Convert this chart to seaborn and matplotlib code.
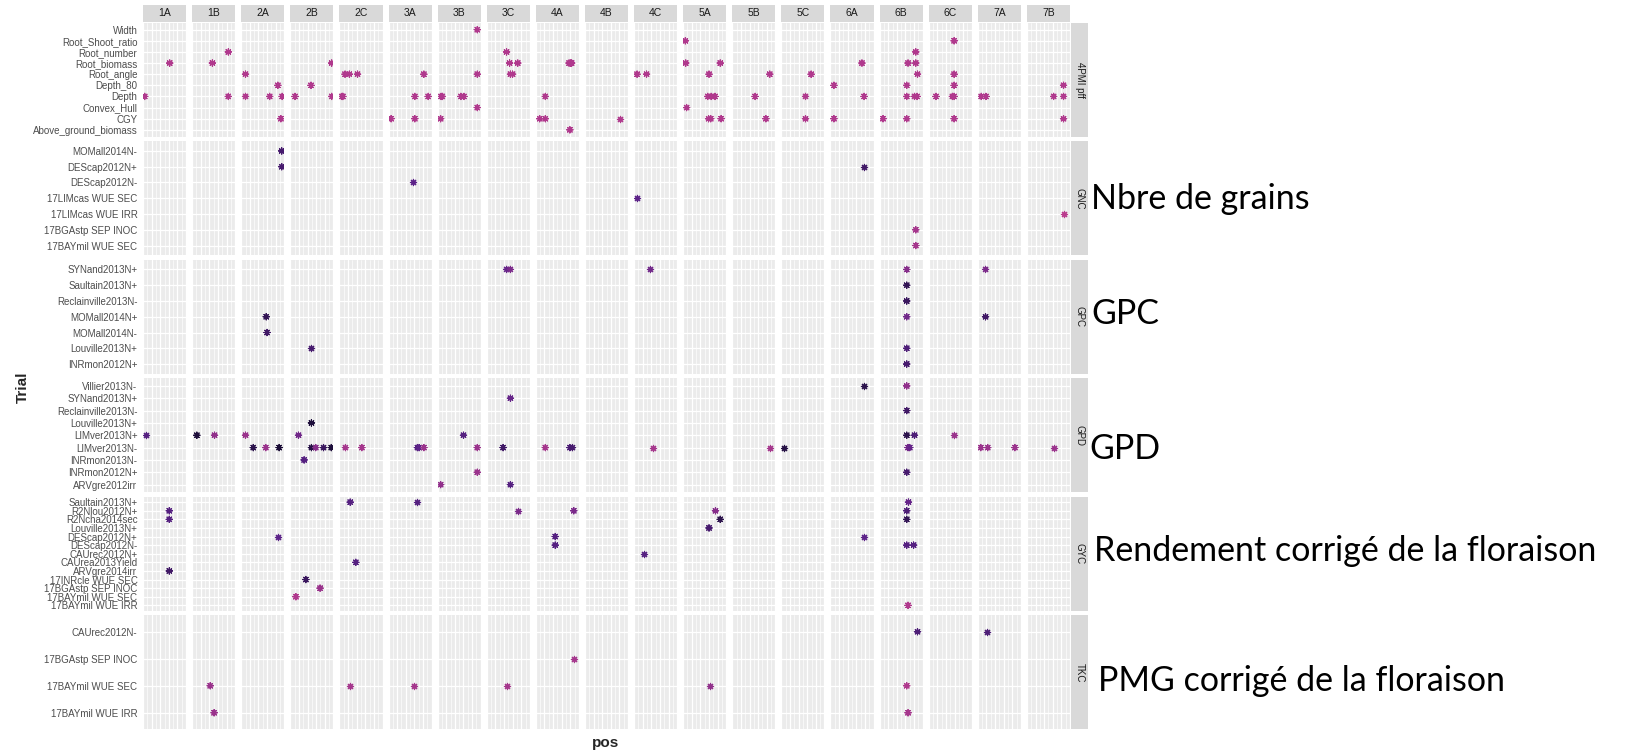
import numpy as np
import pandas as pd
import matplotlib
matplotlib.use("Agg")
import matplotlib.pyplot as plt
import seaborn as sns
from matplotlib.colors import LinearSegmentedColormap
from matplotlib.patches import Rectangle

chromosomes = ["1A", "1B", "2A", "2B", "2C", "3A", "3B", "3C", "4A", "4B",
               "4C", "5A", "5B", "5C", "6A", "6B", "6C", "7A", "7B"]
traits = ["4PMI pff", "GNC", "GPC", "GPD", "GYC", "TKC"]
annotations = ["", "Nbre de grains", "GPC", "GPD",
               "Rendement corrigé de la floraison", "PMG corrigé de la floraison"]

trials_4PMI = ["Width", "Root_Shoot_ratio", "Root_number", "Root_biomass", "Root_angle",
               "Depth_80", "Depth", "Convex_Hull", "CGY", "Above_ground_biomass"]
trials_GNC = ["MOMall2014N-", "DEScap2012N+", "DEScap2012N-", "17LIMcas WUE SEC",
              "17LIMcas WUE IRR", "17BGAstp SEP INOC", "17BAYmil WUE SEC"]
trials_GPC = ["SYNand2013N+", "Saultain2013N+", "Reclainville2013N-", "MOMall2014N+",
              "MOMall2014N-", "Louville2013N+", "INRmon2012N+"]
trials_GPD = ["Villier2013N-", "SYNand2013N+", "Reclainville2013N-", "Louville2013N+",
              "LIMver2013N+", "LIMver2013N-", "INRmon2013N-", "INRmon2012N+", "ARVgre2012irr"]
trials_GYC = ["Saultain2013N+", "R2Nlou2012N+", "R2Ncha2014sec", "Louville2013N+",
              "DEScap2012N+", "DEScap2012N-", "CAUrec2012N+", "CAUrea2013Yield",
              "ARVgre2014irr", "17INRcle WUE SEC", "17BGAstp SEP INOC",
              "17BAYmil WUE SEC", "17BAYmil WUE IRR"]
trials_TKC = ["CAUrec2012N-", "17BGAstp SEP INOC", "17BAYmil WUE SEC", "17BAYmil WUE IRR"]

# (chromosome, trial, pos, effect)
pts_4PMI = [
    ("1A", "Root_biomass", 62, 0.9), ("1A", "Depth", 4, 0.9),
    ("1B", "Root_biomass", 47, 0.9), ("1B", "Root_number", 84, 0.9), ("1B", "Depth", 84, 0.9),
    ("2A", "Root_angle", 10, 0.9), ("2A", "Depth_80", 85, 0.9), ("2A", "Depth", 10, 0.9),
    ("2A", "Depth", 66, 0.9), ("2A", "Depth", 95, 0.9), ("2A", "CGY", 92, 0.9),
    ("2B", "Root_biomass", 96, 0.9), ("2B", "Depth_80", 48, 0.9), ("2B", "Depth", 11, 0.9),
    ("2B", "Depth", 96, 0.9),
    ("2C", "Root_angle", 13, 0.9), ("2C", "Root_angle", 23, 0.9), ("2C", "Root_angle", 42, 0.9),
    ("2C", "Depth", 6, 0.9), ("2C", "Depth", 8, 0.9),
    ("3A", "Root_angle", 82, 0.9), ("3A", "Depth", 61, 0.9), ("3A", "Depth", 92, 0.9),
    ("3A", "CGY", 6, 0.9), ("3A", "CGY", 61, 0.9),
    ("3B", "Width", 92, 0.9), ("3B", "Root_angle", 92, 0.9), ("3B", "Depth", 8, 0.9),
    ("3B", "Depth", 11, 0.9), ("3B", "Depth", 54, 0.9), ("3B", "Depth", 61, 0.9),
    ("3B", "Convex_Hull", 92, 0.9), ("3B", "CGY", 7, 0.9),
    ("3C", "Root_number", 46, 0.9), ("3C", "Root_biomass", 53, 0.9), ("3C", "Root_biomass", 72, 0.9),
    ("3C", "Root_angle", 55, 0.9), ("3C", "Root_angle", 60, 0.9),
    ("4A", "Root_biomass", 77, 0.9), ("4A", "Root_biomass", 80, 0.9), ("4A", "Root_biomass", 83, 0.9),
    ("4A", "Depth", 22, 0.9), ("4A", "CGY", 9, 0.9), ("4A", "CGY", 22, 0.9),
    ("4A", "Above_ground_biomass", 79, 0.9),
    ("4B", "CGY", 81, 0.9),
    ("4C", "Root_angle", 7, 0.9), ("4C", "Root_angle", 29, 0.9),
    ("5A", "Root_Shoot_ratio", 5, 0.9), ("5A", "Root_biomass", 6, 0.9), ("5A", "Root_biomass", 86, 0.9),
    ("5A", "Root_angle", 60, 0.9), ("5A", "Depth", 57, 0.9), ("5A", "Depth", 65, 0.9),
    ("5A", "Depth", 74, 0.9), ("5A", "Convex_Hull", 8, 0.9), ("5A", "CGY", 59, 0.9),
    ("5A", "CGY", 64, 0.9), ("5A", "CGY", 88, 0.9),
    ("5B", "Root_angle", 87, 0.9), ("5B", "Depth", 53, 0.9), ("5B", "CGY", 78, 0.9),
    ("5C", "Root_angle", 69, 0.9), ("5C", "Depth", 56, 0.9), ("5C", "CGY", 56, 0.9),
    ("6A", "Root_biomass", 73, 0.9), ("6A", "Depth_80", 8, 0.9), ("6A", "Depth", 78, 0.9),
    ("6A", "CGY", 8, 0.9),
    ("6B", "Root_number", 84, 0.9), ("6B", "Root_biomass", 66, 0.9), ("6B", "Root_biomass", 84, 0.9),
    ("6B", "Root_angle", 88, 0.9), ("6B", "Depth_80", 63, 0.9), ("6B", "Depth", 63, 0.9),
    ("6B", "Depth", 81, 0.9), ("6B", "Depth", 87, 0.9), ("6B", "CGY", 8, 0.9), ("6B", "CGY", 63, 0.9),
    ("6C", "Root_Shoot_ratio", 59, 0.9), ("6C", "Root_angle", 59, 0.9), ("6C", "Depth_80", 59, 0.9),
    ("6C", "Depth", 17, 0.9), ("6C", "Depth", 55, 0.9), ("6C", "Depth", 59, 0.9), ("6C", "CGY", 59, 0.9),
    ("7A", "Depth", 8, 0.9), ("7A", "Depth", 19, 0.9),
    ("7B", "Depth_80", 85, 0.9), ("7B", "Depth", 62, 0.9), ("7B", "Depth", 85, 0.9), ("7B", "CGY", 85, 0.9),
]
pts_GNC = [
    ("2A", "MOMall2014N-", 94, 0.35), ("2A", "DEScap2012N+", 94, 0.35),
    ("3A", "DEScap2012N-", 57, 0.5), ("4C", "17LIMcas WUE SEC", 8, 0.5),
    ("6A", "DEScap2012N+", 78, 0.3), ("6B", "17BGAstp SEP INOC", 84, 0.85),
    ("6B", "17BAYmil WUE SEC", 84, 0.85), ("7B", "17LIMcas WUE IRR", 85, 0.95),
]
pts_GPC = [
    ("2A", "MOMall2014N+", 58, 0.2), ("2A", "MOMall2014N-", 60, 0.3),
    ("2B", "Louville2013N+", 49, 0.35),
    ("3C", "SYNand2013N+", 46, 0.55), ("3C", "SYNand2013N+", 55, 0.65),
    ("4C", "SYNand2013N+", 36, 0.6),
    ("6B", "SYNand2013N+", 63, 0.7), ("6B", "Saultain2013N+", 63, 0.2),
    ("6B", "Reclainville2013N-", 63, 0.25), ("6B", "MOMall2014N+", 63, 0.6),
    ("6B", "Louville2013N+", 63, 0.4), ("6B", "INRmon2012N+", 63, 0.35),
    ("7A", "SYNand2013N+", 18, 0.65), ("7A", "MOMall2014N+", 18, 0.3),
]
pts_GPD = [
    ("1A", "LIMver2013N+", 7, 0.45),
    ("1B", "LIMver2013N+", 11, 0.05), ("1B", "LIMver2013N+", 52, 0.75),
    ("2A", "LIMver2013N+", 10, 0.8), ("2A", "LIMver2013N-", 28, 0.15),
    ("2A", "LIMver2013N-", 57, 0.8), ("2A", "LIMver2013N-", 88, 0.02),
    ("2B", "Louville2013N+", 49, 0.05), ("2B", "LIMver2013N+", 19, 0.6),
    ("2B", "LIMver2013N-", 49, 0.1), ("2B", "LIMver2013N-", 59, 0.7),
    ("2B", "LIMver2013N-", 77, 0.25), ("2B", "LIMver2013N-", 95, 0.05),
    ("2B", "INRmon2013N-", 32, 0.45),
    ("2C", "LIMver2013N-", 14, 0.85), ("2C", "LIMver2013N-", 52, 0.85),
    ("3A", "LIMver2013N-", 67, 0.45), ("3A", "LIMver2013N-", 71, 0.5), ("3A", "LIMver2013N-", 82, 0.8),
    ("3B", "LIMver2013N+", 60, 0.45), ("3B", "LIMver2013N-", 92, 0.8),
    ("3B", "INRmon2012N+", 92, 0.8), ("3B", "ARVgre2012irr", 7, 0.75),
    ("3C", "SYNand2013N+", 55, 0.55), ("3C", "LIMver2013N-", 38, 0.3), ("3C", "ARVgre2012irr", 55, 0.45),
    ("4A", "LIMver2013N-", 22, 0.85), ("4A", "LIMver2013N-", 79, 0.4), ("4A", "LIMver2013N-", 85, 0.35),
    ("4C", "LIMver2013N-", 45, 0.85), ("5B", "LIMver2013N-", 87, 0.85),
    ("5C", "LIMver2013N-", 6, 0.1), ("6A", "Villier2013N-", 78, 0.15),
    ("6B", "Villier2013N-", 63, 0.75), ("6B", "Reclainville2013N-", 63, 0.3),
    ("6B", "LIMver2013N+", 63, 0.15), ("6B", "LIMver2013N+", 81, 0.4),
    ("6B", "LIMver2013N-", 66, 0.65), ("6B", "LIMver2013N-", 70, 0.55),
    ("6B", "INRmon2012N+", 63, 0.35),
    ("6C", "LIMver2013N+", 59, 0.8),
    ("7A", "LIMver2013N-", 7, 0.8), ("7A", "LIMver2013N-", 23, 0.8), ("7A", "LIMver2013N-", 86, 0.8),
    ("7B", "LIMver2013N-", 64, 0.8),
]
pts_GYC = [
    ("1A", "R2Nlou2012N+", 61, 0.45), ("1A", "R2Ncha2014sec", 61, 0.45), ("1A", "ARVgre2014irr", 61, 0.3),
    ("2A", "DEScap2012N+", 85, 0.5),
    ("2B", "17INRcle WUE SEC", 36, 0.25), ("2B", "17BGAstp SEP INOC", 69, 0.8),
    ("2B", "17BAYmil WUE SEC", 13, 0.9),
    ("2C", "Saultain2013N+", 25, 0.45), ("2C", "CAUrea2013Yield", 38, 0.45),
    ("3A", "Saultain2013N+", 66, 0.45), ("3C", "R2Nlou2012N+", 73, 0.65),
    ("4A", "DEScap2012N+", 45, 0.45), ("4A", "DEScap2012N-", 45, 0.45), ("4A", "R2Nlou2012N+", 88, 0.65),
    ("4C", "CAUrec2012N+", 23, 0.45),
    ("5A", "R2Nlou2012N+", 75, 0.7), ("5A", "R2Ncha2014sec", 86, 0.15), ("5A", "Louville2013N+", 60, 0.35),
    ("6A", "DEScap2012N+", 78, 0.5),
    ("6B", "Saultain2013N+", 67, 0.55), ("6B", "R2Nlou2012N+", 63, 0.4), ("6B", "R2Ncha2014sec", 63, 0.2),
    ("6B", "DEScap2012N-", 63, 0.45), ("6B", "DEScap2012N-", 79, 0.45),
    ("6B", "17BAYmil WUE IRR", 66, 0.9),
]
pts_TKC = [
    ("1B", "17BAYmil WUE SEC", 42, 0.8), ("1B", "17BAYmil WUE IRR", 51, 0.8),
    ("2C", "17BAYmil WUE SEC", 25, 0.85), ("3A", "17BAYmil WUE SEC", 58, 0.85),
    ("3C", "17BAYmil WUE SEC", 47, 0.85), ("4A", "17BGAstp SEP INOC", 89, 0.85),
    ("5A", "17BAYmil WUE SEC", 63, 0.75),
    ("6B", "CAUrec2012N-", 88, 0.4), ("6B", "17BAYmil WUE SEC", 63, 0.9),
    ("6B", "17BAYmil WUE IRR", 66, 0.85),
    ("7A", "CAUrec2012N-", 22, 0.4),
]

trial_lists = [trials_4PMI, trials_GNC, trials_GPC, trials_GPD, trials_GYC, trials_TKC]
point_lists = [pts_4PMI, pts_GNC, pts_GPC, pts_GPD, pts_GYC, pts_TKC]

cmap = LinearSegmentedColormap.from_list("qtl", ["#180c33", "#5c2288", "#c43e8e"])

sns.set_theme(style="white")
plt.rcParams["font.family"] = ["Liberation Sans", "DejaVu Sans"]

W, H = 1626, 753
fig = plt.figure(figsize=(W / 100, H / 100), dpi=100)
L, R, T, B = 143, 1070, 23, 729
gs = fig.add_gridspec(6, 19, left=L / W, right=R / W, top=1 - T / H, bottom=1 - B / H,
                      wspace=0.139, hspace=0.044)

for r, (trait, cats, pts) in enumerate(zip(traits, trial_lists, point_lists)):
    df = pd.DataFrame(pts, columns=["chrom", "trial", "pos", "effect"])
    df["yi"] = df["trial"].map({c: i for i, c in enumerate(cats)})
    for c, chrom in enumerate(chromosomes):
        ax = fig.add_subplot(gs[r, c])
        ax.set_facecolor("#ebebeb")
        sub = df[df["chrom"] == chrom]
        if len(sub):
            sns.scatterplot(data=sub, x="pos", y="yi", hue="effect", palette=cmap,
                            hue_norm=(0, 1), marker=(8, 2, 0), s=20, linewidth=0.85,
                            legend=False, ax=ax, zorder=3)
        ax.set_xlim(0, 100)
        ax.set_ylim(len(cats) - 1 + 0.6, -0.6)
        ax.set_xticks(np.arange(0, 101, 20))
        ax.set_xticks(np.arange(10, 100, 20), minor=True)
        ax.set_yticks(range(len(cats)))
        ax.grid(which="major", axis="x", color="white", lw=0.9)
        ax.grid(which="minor", axis="x", color="white", lw=0.45)
        ax.grid(which="major", axis="y", color="white", lw=0.9)
        ax.set_axisbelow(True)
        for s in ax.spines.values():
            s.set_visible(False)
        ax.set_xlabel("")
        ax.set_ylabel("")
        ax.tick_params(axis="x", which="both", length=0, labelbottom=False)
        if c == 0:
            ax.set_yticklabels(cats)
            ax.tick_params(axis="y", length=2.5, width=0.6, color="#333333",
                           labelsize=7, labelcolor="#4d4d4d", pad=1.5)
        else:
            ax.tick_params(axis="y", length=0, labelleft=False)
        if r == 0:
            hs = 17 / 113.5
            ax.add_patch(Rectangle((0, 1.01), 1, hs, transform=ax.transAxes,
                                   facecolor="#d9d9d9", edgecolor="none", clip_on=False))
            ax.text(0.5, 1.01 + hs / 2, chrom, transform=ax.transAxes, ha="center",
                    va="center", fontsize=7.5, color="#1a1a1a")
        if c == len(chromosomes) - 1:
            ws = 17 / 43
            ax.add_patch(Rectangle((1.03, 0), ws, 1, transform=ax.transAxes,
                                   facecolor="#d9d9d9", edgecolor="none", clip_on=False))
            ax.text(1.03 + ws / 2, 0.5, trait, transform=ax.transAxes, ha="center",
                    va="center", rotation=-90, fontsize=7, color="#1a1a1a")

ann_y = [0, 199, 314, 449, 551, 681]
ann_x = [0, 1091, 1091, 1089, 1094, 1098]
for txt, x, y in zip(annotations, ann_x, ann_y):
    if txt:
        fig.text(x / W, 1 - y / H, txt, ha="left", va="center", fontsize=24.5,
                 family=["Lato", "DejaVu Sans"], color="black")

fig.text(23 / W, 1 - 387 / H, "Trial", rotation=90, ha="center", va="center",
         fontsize=11, fontweight="bold")
fig.text(606 / W, 1 - 743 / H, "pos", ha="center", va="center",
         fontsize=11, fontweight="bold")

fig.savefig("out.png", dpi=100, facecolor="white")
